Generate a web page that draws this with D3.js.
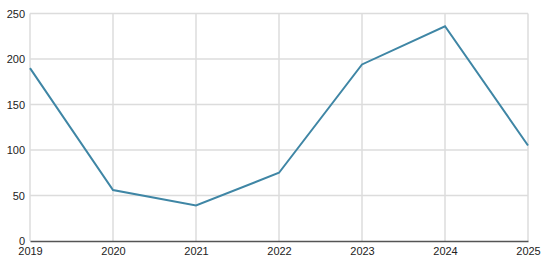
<!DOCTYPE html>
<html>
<head>
<meta charset="utf-8">
<script src="https://cdn.jsdelivr.net/npm/d3@7"></script>
<style>
  body { margin: 0; background: #fff; }
  text { font-family: "Liberation Sans", Arial, sans-serif; font-size: 11px; fill: #222; }
</style>
</head>
<body>
<div id="graphic"></div>
<script>
// chart data
var years = [2019, 2020, 2021, 2022, 2023, 2024, 2025];
var values = [190, 56, 39, 75, 194, 236, 105];
var yTicks = [0, 50, 100, 150, 200, 250];

(function() {
  var w = 550, h = 268;
  var margin = {top: 13.5, right: 22, bottom: 27, left: 30},
      width = w - margin.left - margin.right,
      height = h - margin.top - margin.bottom;

  var x = d3.scaleLinear().domain([2019, 2025]).range([0, width]);
  var y = d3.scaleLinear().domain([0, 250]).range([height, 0]);

  var svg = d3.select('#graphic').append('svg')
      .attr('width', w)
      .attr('height', h)
    .append('g')
      .attr('transform', 'translate(' + margin.left + ',' + margin.top + ')');

  // horizontal grid
  svg.append('g').selectAll('line')
      .data(yTicks.slice(1))
      .enter().append('line')
      .attr('x1', 0).attr('x2', width)
      .attr('y1', function(d) { return y(d); })
      .attr('y2', function(d) { return y(d); })
      .attr('stroke', '#dcdcdc')
      .attr('stroke-width', 1.5);

  // vertical grid
  svg.append('g').selectAll('line')
      .data(years)
      .enter().append('line')
      .attr('x1', function(d) { return x(d); })
      .attr('x2', function(d) { return x(d); })
      .attr('y1', 0).attr('y2', height)
      .attr('stroke', '#dcdcdc')
      .attr('stroke-width', 1.5);

  // y axis labels
  svg.append('g')
      .call(d3.axisLeft(y).tickValues(yTicks).tickSize(0).tickPadding(5))
      .call(function(g) { g.select('.domain').remove(); })
      .selectAll('text')
      .style('font-family', '"Liberation Sans", Arial, sans-serif')
      .style('font-size', '11px')
      .attr('fill', '#222');

  // x axis
  svg.append('g')
      .attr('transform', 'translate(0,' + height + ')')
      .call(d3.axisBottom(x).tickValues(years).tickFormat(d3.format('d')).tickSize(0).tickPadding(6))
      .call(function(g) { g.select('.domain').attr('stroke', '#555').attr('stroke-width', 1.5); })
      .selectAll('text')
      .style('font-family', '"Liberation Sans", Arial, sans-serif')
      .style('font-size', '11px')
      .attr('fill', '#222');

  var line = d3.line()
      .x(function(d, i) { return x(years[i]); })
      .y(function(d) { return y(d); });

  svg.append('path')
      .datum(values)
      .attr('fill', 'none')
      .attr('stroke', '#3f86a5')
      .attr('stroke-width', 2)
      .attr('d', line);
})();
</script>
</body>
</html>
